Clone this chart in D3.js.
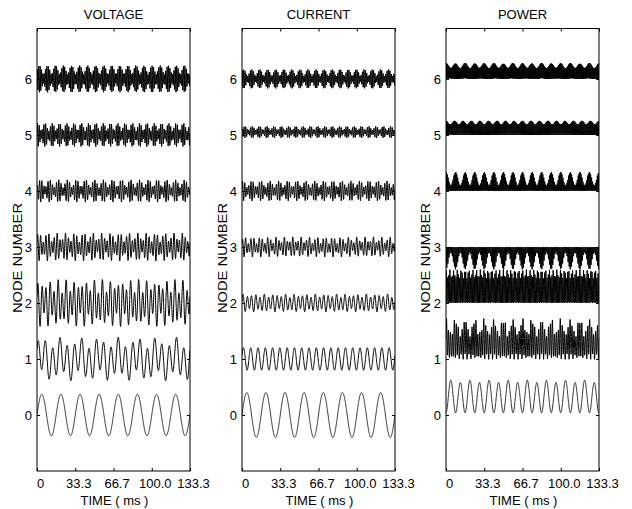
<!DOCTYPE html>
<html lang="en">
<head>
<meta charset="utf-8">
<script src="https://cdn.jsdelivr.net/npm/d3@7"></script>
<style>
  body { margin: 0; background: #fff; }
  text { font-family: "Liberation Sans", Arial, sans-serif; fill: #000; }
</style>
</head>
<body>
<svg id="chart" width="632" height="509"></svg>
<script>
// axis values
var titles = ["VOLTAGE", "CURRENT", "POWER"];
var nodes = [0, 1, 2, 3, 4, 5, 6];
var timeTicks = [0, 33.3, 66.7, 100.0, 133.3];
var timeLabels = ["0", "33.3", "66.7", "100.0", "133.3"];
var timeEnd = 133.3;

// traces: offset from node line, then
// [cycles in 133.3 ms, amplitude, phase, envelope cycles, envelope depth]
var voltageOffset = [0, 0, 0, 0, 0, 0, 0];
var voltageParts = [
  [[8, 0.37, 0]],
  [[21, 0.29, 0.1], [8, 0.1, 0]],
  [[38, 0.3, 0], [21, 0.12, 0.3]],
  [[55, 0.17, 0], [38, 0.08, 0.2]],
  [[72, 0.13, 0], [55, 0.07, 0.4]],
  [[93, 0.14, 0], [72, 0.07, 0.1]],
  [[112, 0.16, 0], [93, 0.08, 0.3]]
];

var currentOffset = [0, 0, 0, 0, 0, 0.05, 0];
var currentParts = [
  [[8, 0.4, 0]],
  [[21, 0.2, 0.05]],
  [[36, 0.13, 0], [21, 0.03, 0.2]],
  [[55, 0.12, 0], [36, 0.06, 0.3]],
  [[72, 0.12, 0], [55, 0.06, 0.1]],
  [[93, 0.07, 0], [72, 0.035, 0.4]],
  [[112, 0.11, 0], [93, 0.06, 0.2]]
];

var powerOffset = [0.32, 0.3, 0.26, -0.125, 0.11, 0.11, 0.12];
var powerParts = [
  [[16, 0.28, -0.25], [8, 0.02, 0]],
  [[78, 0.26, 0, 16, 0.25], [16, 0.065, 0.25], [42, 0.05, 0]],
  [[126, 0.26, 0, 40, 0.15], [40, 0.039, 0.25]],
  [[140, 0.125, 0, 16, 0.6], [16, -0.075, 0.25]],
  [[160, 0.11, 0, 16, 0.55], [16, 0.06, 0.25]],
  [[150, 0.11, 0, 18, 0.15], [18, 0.016, 0.25]],
  [[170, 0.12, 0, 16, 0.18], [16, 0.022, 0.25]]
];

var panelOffsets = [voltageOffset, currentOffset, powerOffset];
var panelParts = [voltageParts, currentParts, powerParts];

// layout
var panelLeft = [37, 242, 446];
var panelW = 153, panelTop = 28.5, panelBottom = 471;
var yLabelX = [22, 227, 430];

var svg = d3.select("#chart");

var x = d3.scaleLinear().domain([0, timeEnd]).range([0, panelW]);
var y = d3.scaleLinear().domain([-1, 6.9]).range([panelBottom - panelTop, 0]);

// sample instants, like a digitised record
var samples = d3.range(0, 1201).map(function(i) { return i * timeEnd / 1200; });

function trace(node, off, parts) {
  return samples.map(function(t) {
    var v = node + off + d3.sum(parts, function(p) {
      var env = p.length > 3 ? 1 + p[4] * Math.cos(2 * Math.PI * p[3] * t / timeEnd) : 1;
      return p[1] * env * Math.sin(2 * Math.PI * (p[0] * t / timeEnd + p[2]));
    });
    return [t, v];
  });
}

var line = d3.line()
  .x(function(d) { return x(d[0]); })
  .y(function(d) { return y(d[1]); });

titles.forEach(function(title, k) {
  var g = svg.append("g").attr("transform", "translate(" + panelLeft[k] + "," + panelTop + ")");
  var h = panelBottom - panelTop;

  g.append("clipPath").attr("id", "clip" + k)
    .append("rect").attr("width", panelW).attr("height", h);

  var traces = g.append("g").attr("clip-path", "url(#clip" + k + ")");
  nodes.forEach(function(n) {
    traces.append("path")
      .datum(trace(n, panelOffsets[k][n], panelParts[k][n]))
      .attr("d", line)
      .attr("fill", "none")
      .attr("stroke", "#000")
      .attr("stroke-width", n === 0 ? 0.8 : 1);
  });

  // inward ticks on all sides
  var bottom = g.append("g").attr("transform", "translate(0," + h + ")")
    .call(d3.axisBottom(x).tickValues(timeTicks).tickSizeInner(-3).tickSizeOuter(0).tickPadding(8)
      .tickFormat(function(d, i) { return timeLabels[i]; }));
  bottom.selectAll("text").attr("dx", 3);
  g.append("g")
    .call(d3.axisTop(x).tickValues(timeTicks).tickSizeInner(-3).tickSizeOuter(0).tickFormat(""));
  g.append("g")
    .call(d3.axisLeft(y).tickValues(nodes).tickSizeInner(-3).tickSizeOuter(0).tickPadding(5));
  g.append("g").attr("transform", "translate(" + panelW + ",0)")
    .call(d3.axisRight(y).tickValues(nodes).tickSizeInner(-3).tickSizeOuter(0).tickFormat(""));

  g.selectAll(".domain").remove();
  g.selectAll(".tick text").attr("font-size", 13).attr("font-family", null);

  g.append("rect")
    .attr("width", panelW).attr("height", h)
    .attr("fill", "none").attr("stroke", "#000").attr("stroke-width", 1);

  svg.append("text")
    .attr("x", panelLeft[k] + panelW / 2).attr("y", 19)
    .attr("text-anchor", "middle").attr("font-size", 13)
    .text(title);

  svg.append("text")
    .attr("x", panelLeft[k] + panelW / 2 + 1).attr("y", 505)
    .attr("text-anchor", "middle").attr("font-size", 13)
    .text("TIME ( ms )");

  svg.append("text")
    .attr("transform", "translate(" + yLabelX[k] + ",258) rotate(-90)")
    .attr("text-anchor", "middle").attr("font-size", 13)
    .attr("textLength", 110).attr("lengthAdjust", "spacingAndGlyphs")
    .text("NODE NUMBER");
});
</script>
</body>
</html>
